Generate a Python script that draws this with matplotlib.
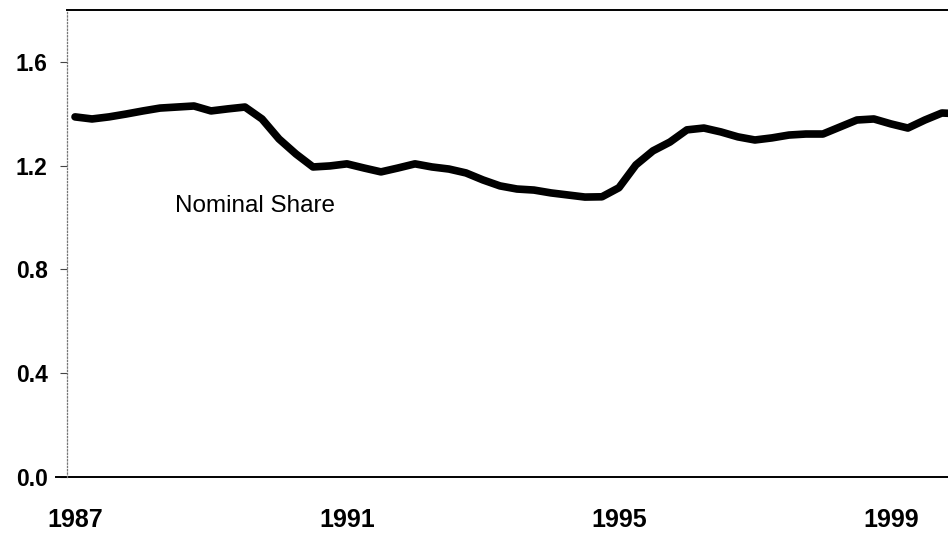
import numpy as np
import matplotlib
matplotlib.use("Agg")
import matplotlib.pyplot as plt

start_year = 1987
share = [1.388, 1.380, 1.388, 1.399, 1.411, 1.422, 1.426, 1.430,
         1.411, 1.419, 1.426, 1.380, 1.303, 1.245, 1.195, 1.199,
         1.207, 1.191, 1.176, 1.191, 1.207, 1.195, 1.187, 1.172,
         1.145, 1.122, 1.110, 1.106, 1.095, 1.087, 1.079, 1.080,
         1.115, 1.203, 1.257, 1.291, 1.338, 1.345, 1.330, 1.311,
         1.299, 1.307, 1.318, 1.322, 1.322, 1.349, 1.376, 1.380,
         1.361, 1.345, 1.376, 1.403, 1.400]
yticks = [0.0, 0.4, 0.8, 1.2, 1.6]
xticks = [1987, 1991, 1995, 1999]
series_label = "Nominal Share"

t = start_year + np.arange(len(share)) / 4.0

plt.rcParams['font.family'] = ['Liberation Sans', 'DejaVu Sans']

fig = plt.figure(figsize=(9.48, 5.38), dpi=100)
ax = fig.add_axes([67 / 948, 1 - 477 / 538, 1 - 67 / 948, 467 / 538])

ax.plot(t, share, color='black', lw=5.5, solid_joinstyle='round', solid_capstyle='round')

ax.set_ylim(0, 1.8)
ax.set_xlim(1986.882, 1999.84)

ax.set_yticks(yticks)
ax.set_yticklabels([f"{v:.1f}" for v in yticks], fontweight='bold', fontsize=16.5)
ax.set_xticks(xticks)
ax.set_xticklabels([str(y) for y in xticks], fontweight='bold', fontsize=18)
ax.tick_params(axis='y', length=5, width=0.8, pad=9, color='#444444')
ax.tick_params(axis='x', length=0, pad=22)

ax.spines['right'].set_visible(False)
ax.spines['top'].set_linewidth(1.4)
ax.spines['bottom'].set_visible(False)
ax.spines['left'].set_linestyle(':')
ax.spines['left'].set_color('#777777')
ax.spines['left'].set_linewidth(0.9)
ax.axhline(0, xmin=-0.012, xmax=1, color='black', lw=1.4, clip_on=False)

ax.text(1988.47, 1.045, series_label, fontsize=17.5, va='center', ha='left')

fig.savefig("out.png", dpi=100)
